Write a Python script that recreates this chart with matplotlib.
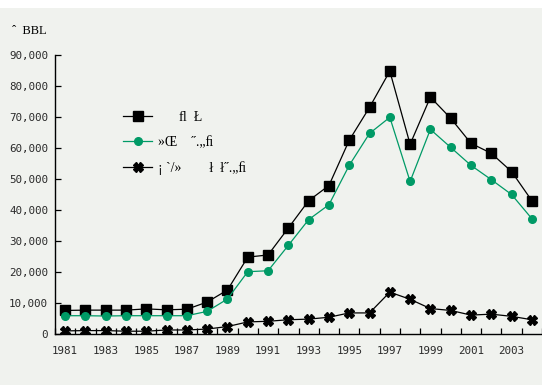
import numpy as np
import matplotlib.pyplot as plt
from matplotlib.patches import Rectangle

years = list(range(1981, 2005))

# volumes, BBL
total = [7600, 7700, 7700, 7700, 8100, 7800, 8000, 10300, 14200, 24800, 25500,
         34200, 43000, 47900, 62500, 73100, 84800, 61200, 76400, 69600, 61500,
         58300, 52400, 43000]
series_b = [5900, 5900, 5800, 5900, 5900, 5900, 5900, 7300, 11300, 20100, 20400,
            28600, 36900, 41700, 54400, 64700, 69900, 49200, 66000, 60200, 54400,
            49800, 45000, 37200]
series_c = [1000, 1100, 1100, 900, 900, 1300, 1300, 1600, 2400, 3900, 4100,
            4600, 4800, 5400, 6800, 6800, 13500, 11200, 8200, 7600, 6100,
            6400, 5700, 4600]

labels = ["      \ufb02  \u0141", "\u00bb\u0152    \u02dd.\u201e\ufb01",
          "\u00a1 `/\u00bb        \u0142  \u0142\u02dd.\u201e\ufb01"]

bg = "#f0f2ee"
green = "#009a66"

fig = plt.figure(figsize=(5.42, 3.85), dpi=100, facecolor=bg)
# white band along the top edge
fig.patches.append(Rectangle((0, 377 / 385), 1, 8 / 385, transform=fig.transFigure,
                             facecolor="white", edgecolor="none", zorder=-1))

ax = fig.add_axes([55 / 542, 51 / 385, 487 / 542, 279 / 385])
ax.patch.set_alpha(0)

ax.plot(years, total, color="black", lw=0.9, marker="s", ms=7.5,
        mfc="black", mec="black", label=labels[0])
ax.plot(years, series_b, color=green, lw=0.9, marker="o", ms=5.5,
        mfc=green, mec=green, label=labels[1])
ax.plot(years, series_c, color="black", lw=0.9, marker="X", ms=6.5,
        mfc="black", mec="black", label=labels[2])

ax.set_xlim(1980.5, 2004.5)
ax.set_ylim(0, 90000)
ax.set_yticks(np.arange(0, 90001, 10000))
ax.set_yticklabels([f"{v:,}" for v in range(0, 90001, 10000)],
                   family="DejaVu Sans Mono", fontsize=7.8, color="#2a2a2a")
ax.set_xticks(np.arange(1980.5, 2004.6, 1))
ax.set_xticklabels([])
ax.set_xticks(range(1981, 2004, 2), minor=True)
ax.set_xticklabels([str(y) for y in range(1981, 2004, 2)], minor=True,
                   family="DejaVu Sans Mono", fontsize=7.8, color="#2a2a2a")
ax.tick_params(axis="x", which="major", direction="in", length=4, width=0.9)
ax.tick_params(axis="x", which="minor", length=0, pad=9)
ax.tick_params(axis="y", direction="in", length=4, width=0.9, pad=5)

for side in ["top", "right"]:
    ax.spines[side].set_visible(False)
for side in ["left", "bottom"]:
    ax.spines[side].set_linewidth(1.0)

fig.text(12 / 542, 1 - 31 / 385, "\u02c6  BBL", family="Liberation Serif",
         fontsize=9, va="center", ha="left")

leg = ax.legend(loc="upper left", bbox_to_anchor=(0.14, 0.8), frameon=False,
                prop={"family": "Liberation Serif", "size": 10},
                handlelength=2.1, handletextpad=0.4, labelspacing=0.87,
                borderaxespad=0, borderpad=0)

fig.savefig("out.png", dpi=100, facecolor=fig.get_facecolor())
